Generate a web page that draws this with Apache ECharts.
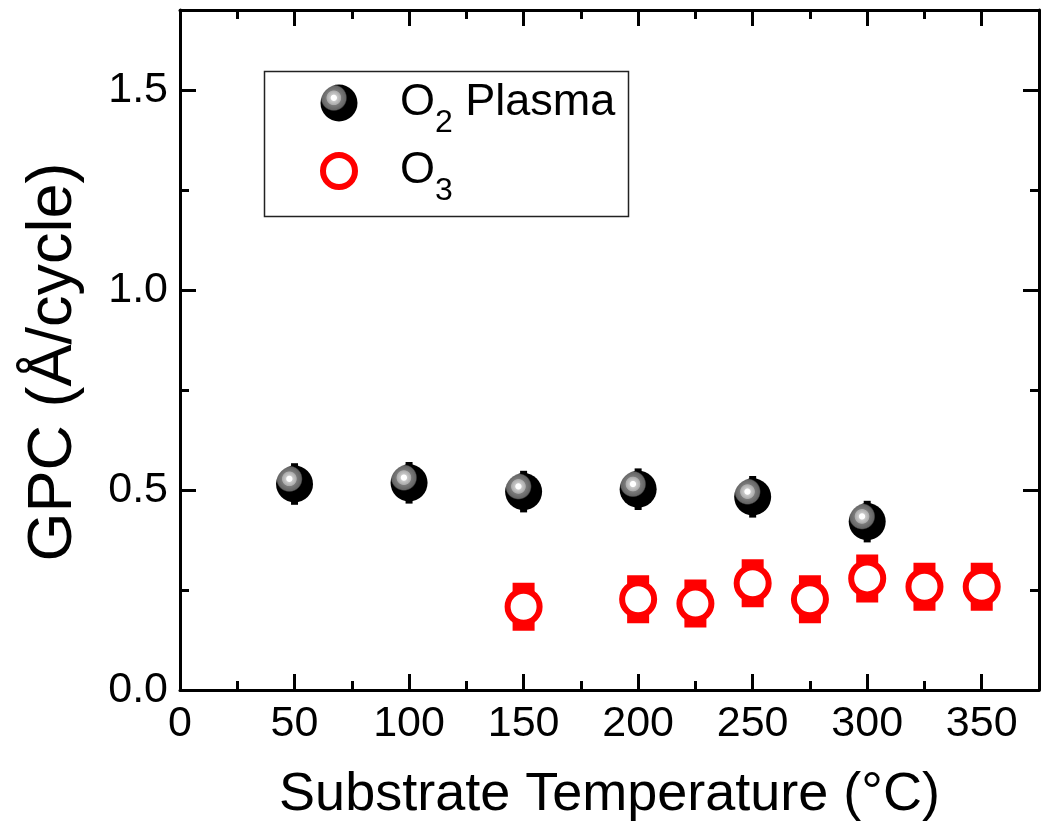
<!DOCTYPE html>
<html>
<head>
<meta charset="utf-8">
<script src="https://cdn.jsdelivr.net/npm/echarts@6/dist/echarts.min.js"></script>
<style>html,body{margin:0;padding:0;background:#fff}#c{width:1042px;height:833px}</style>
</head>
<body>
<div id="c"></div>
<script>
// ---- data ----
const plasmaTemps = [50, 100, 150, 200, 250, 300];
const plasmaGPC   = [0.515, 0.518, 0.496, 0.502, 0.483, 0.421];
const plasmaErr   = [0.052, 0.052, 0.052, 0.052, 0.052, 0.052];
const ozoneTemps  = [150, 200, 225, 250, 275, 300, 325, 350];
const ozoneGPC    = [0.208, 0.227, 0.216, 0.267, 0.227, 0.279, 0.258, 0.258];
const ozoneErr    = [0.06, 0.06, 0.06, 0.06, 0.06, 0.06, 0.06, 0.06];
const xTicks = [0, 50, 100, 150, 200, 250, 300, 350];
const yTicks = [0.0, 0.5, 1.0, 1.5];
const legendLabels = [['O', '2', ' Plasma'], ['O', '3', '']];

const FONT = 'Liberation Sans, Arial, Helvetica, sans-serif';
const chart = echarts.init(document.getElementById('c'));

const plasmaData = plasmaTemps.map((t, i) => [t, plasmaGPC[i], plasmaErr[i]]);
const ozoneData  = ozoneTemps.map((t, i) => [t, ozoneGPC[i], ozoneErr[i]]);

function errRender(w, color) {
  return function (params, api) {
    const x = api.value(0), y = api.value(1), e = api.value(2);
    const top = api.coord([x, y + e]);
    const bot = api.coord([x, y - e]);
    return { type: 'rect', shape: { x: top[0] - w / 2, y: top[1], width: w, height: bot[1] - top[1] },
             style: { fill: color } };
  };
}

function sphere() {
  return { type: 'radial', x: 0.36, y: 0.36, r: 0.36, colorStops: [
    { offset: 0, color: '#ffffff' }, { offset: 0.2, color: '#ffffff' },
    { offset: 0.27, color: '#c8c8c8' }, { offset: 0.52, color: '#acacac' },
    { offset: 0.58, color: '#7a7a7a' }, { offset: 0.9, color: '#646464' },
    { offset: 1, color: '#000000' } ] };
}

const XMIN = 0, XMAX = 375, YMIN = 0, YMAX = 1.7;
const lineStyle = { color: '#000', width: 3 };
const gridRect = { left: 180, right: 3, top: 10, bottom: 143 };

function xAx(grid, pos, major, labels) {
  return {
    type: 'value', gridIndex: grid, position: pos, min: XMIN, max: XMAX,
    interval: major ? 50 : 25,
    axisLine: { show: major, onZero: false, lineStyle },
    axisTick: { show: true, inside: true, length: major ? 16 : 9, lineStyle: { color: '#000', width: 3 } },
    axisLabel: { show: labels, showMaxLabel: false, margin: 13, color: '#000', fontSize: 43, fontFamily: FONT,
                 formatter: v => xTicks.indexOf(v) >= 0 ? String(v) : '' },
    splitLine: { show: false },
    name: labels ? 'Substrate Temperature (°C)' : '', nameLocation: 'middle', nameGap: 78,
    nameTextStyle: { color: '#000', fontSize: 54, fontFamily: FONT }
  };
}
function yAx(grid, pos, major, labels) {
  return {
    type: 'value', gridIndex: grid, position: pos, min: YMIN, max: YMAX,
    interval: major ? 0.5 : 0.25,
    axisLine: { show: major, onZero: false, lineStyle },
    axisTick: { show: true, inside: true, length: major ? 16 : 9, lineStyle: { color: '#000', width: 3 } },
    axisLabel: { show: labels, showMaxLabel: false, margin: 12, color: '#000', fontSize: 43, fontFamily: FONT,
                 formatter: v => { const k = yTicks.findIndex(t => Math.abs(t - v) < 1e-6); return k >= 0 ? yTicks[k].toFixed(1) : ''; } },
    splitLine: { show: false },
    name: labels ? 'GPC (Å/cycle)' : '', nameLocation: 'middle', nameGap: 95, nameRotate: 90,
    nameTextStyle: { color: '#000', fontSize: 63, fontFamily: FONT, padding: [0, 24, 0, 0] }
  };
}

function legendText(parts, y) {
  return { type: 'text', x: 400, y: y, z: 20,
    style: { text: '{m|' + parts[0] + '}{s|' + parts[1] + '}' + (parts[2] ? '{m|' + parts[2] + '}' : ''),
      verticalAlign: 'middle', align: 'left',
      rich: {
        m: { fontSize: 45, lineHeight: 50, fontFamily: FONT, fill: '#000', color: '#000' },
        s: { fontSize: 32, lineHeight: 30, padding: [41, 0, 0, 0], fontFamily: FONT, fill: '#000', color: '#000' }
      } } };
}

chart.setOption({
  backgroundColor: '#fff',
  animation: false,
  grid: [Object.assign({}, gridRect), Object.assign({}, gridRect)],
  xAxis: [xAx(0, 'bottom', true, true), xAx(0, 'top', true, false), xAx(1, 'bottom', false, false), xAx(1, 'top', false, false)],
  yAxis: [yAx(0, 'left', true, true), yAx(0, 'right', true, false), yAx(1, 'left', false, false), yAx(1, 'right', false, false)],
  graphic: [
    { type: 'rect', shape: { x: 264.5, y: 71.5, width: 364, height: 145 },
      style: { fill: 'none', stroke: '#222', lineWidth: 1.5 }, z: 10 },
    { type: 'circle', shape: { cx: 339, cy: 103, r: 18.5 }, style: { fill: sphere() }, z: 20 },
    { type: 'circle', shape: { cx: 339, cy: 171, r: 16 }, style: { fill: '#fff', stroke: '#ff0000', lineWidth: 6 }, z: 20 },
    legendText(legendLabels[0], 103),
    legendText(legendLabels[1], 171)
  ],
  series: [
    { type: 'custom', name: 'plasmaErr', xAxisIndex: 0, yAxisIndex: 0, renderItem: errRender(7, '#000'),
      encode: { x: 0, y: 1 }, data: plasmaData, silent: true },
    { type: 'scatter', name: 'O2 Plasma', xAxisIndex: 0, yAxisIndex: 0, symbol: 'circle', symbolSize: 37,
      itemStyle: { color: sphere(), opacity: 1 }, data: plasmaData.map(d => [d[0], d[1]]) },
    { type: 'custom', name: 'ozoneErr', xAxisIndex: 0, yAxisIndex: 0, renderItem: errRender(22, '#ff0000'),
      encode: { x: 0, y: 1 }, data: ozoneData, silent: true },
    { type: 'scatter', name: 'O3', xAxisIndex: 0, yAxisIndex: 0, symbol: 'circle', symbolSize: 32,
      itemStyle: { color: '#fff', borderColor: '#ff0000', borderWidth: 6, opacity: 1 },
      data: ozoneData.map(d => [d[0], d[1]]) }
  ]
});
</script>
</body>
</html>
